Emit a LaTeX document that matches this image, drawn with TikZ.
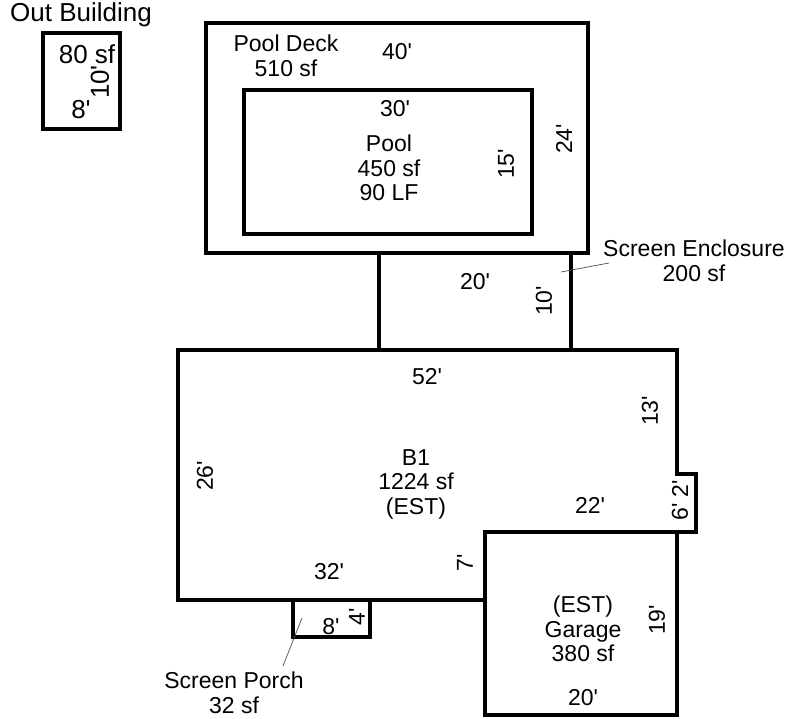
\documentclass[tikz,border=0pt]{standalone}
\usepackage{fontspec}
\newfontfamily\planfont{Liberation Sans}
\usepackage{tikz}
\tikzset{
	wall/.style={line width=4pt, line join=miter},
	leader/.style={line width=0.7pt, black!70},
	lbl/.style={inner sep=0pt, align=center, font=\planfont\fontsize{23}{24.5}\selectfont},
	dim/.style={lbl, rotate=90},
	biglbl/.style={font=\planfont\fontsize{26}{27}\selectfont},
}

\begin{document}
\begin{tikzpicture}[x=1pt, y=-1pt]
\useasboundingbox (0,0) rectangle (788,719);
% walls
\draw[wall] (43,33) rectangle (120,129);
\draw[wall] (206,23) rectangle (588,253);
\draw[wall] (244,90) rectangle (532,234);
\draw[wall] (379,253) -- (379,350);
\draw[wall] (571,253) -- (571,350);
\draw[wall] (178,350) -- (677,350) -- (677,474) -- (696,474) -- (696,532) -- (485,532) -- (485,600) -- (178,600) -- cycle;
\draw[wall] (485,532) -- (485,715) -- (677,715) -- (677,532);
\draw[wall] (293,600) -- (293,637) -- (370,637) -- (370,600);
% out building
\node[lbl, biglbl] (outname) at (81,15) {Out Building};
\node[lbl, biglbl] (outarea) at (87,54) {80 sf};
\node[dim, biglbl] (outh) at (100,82) {10'};
\node[lbl, biglbl] (outw) at (81,110) {8'};
% pool
\node[lbl] (deck) at (286,56) {Pool Deck\\510 sf};
\node[lbl] (deckw) at (397,52) {40'};
\node[dim] (deckh) at (564,139) {24'};
\node[lbl] (poolw) at (395,109) {30'};
\node[lbl] (pool) at (389,168) {Pool\\450 sf\\90 LF};
\node[dim] (poolh) at (506,164) {15'};
% screen enclosure
\node[lbl] (encl) at (694,261) {Screen Enclosure\\200 sf};
\node[lbl] (enclw) at (475,282) {20'};
\node[dim] (enclh) at (544,301) {10'};
\coordinate (enclfrom) at (609,263);
\coordinate (enclto) at (561,272);
\draw[leader] (enclfrom) -- (enclto);
% house
\node[lbl] (house) at (416,484) {B1\\1224 sf\\(EST)};
\node[lbl] (housew) at (427,377) {52'};
\node[dim] (househ) at (205,476) {26'};
\node[dim] (houser) at (650,411) {13'};
\node[lbl] (housein) at (590,505) {22'};
\node[dim] (jogw) at (680,489) {2'};
\node[dim] (jogh) at (680,512) {6'};
\node[lbl] (housebot) at (329,572) {32'};
\node[dim] (housestep) at (465,563) {7'};
% garage
\node[lbl] (garage) at (583,629) {(EST)\\Garage\\380 sf};
\node[dim] (garh) at (657,620) {19'};
\node[lbl] (garw) at (583,698) {20'};
% porch
\node[lbl] (porch) at (234,693) {Screen Porch\\32 sf};
\node[lbl] (porchw) at (331,627) {8'};
\node[dim] (porchh) at (357,617) {4'};
\coordinate (porchfrom) at (283,666);
\coordinate (porchto) at (302,618);
\draw[leader] (porchfrom) -- (porchto);
\end{tikzpicture}
\end{document}
